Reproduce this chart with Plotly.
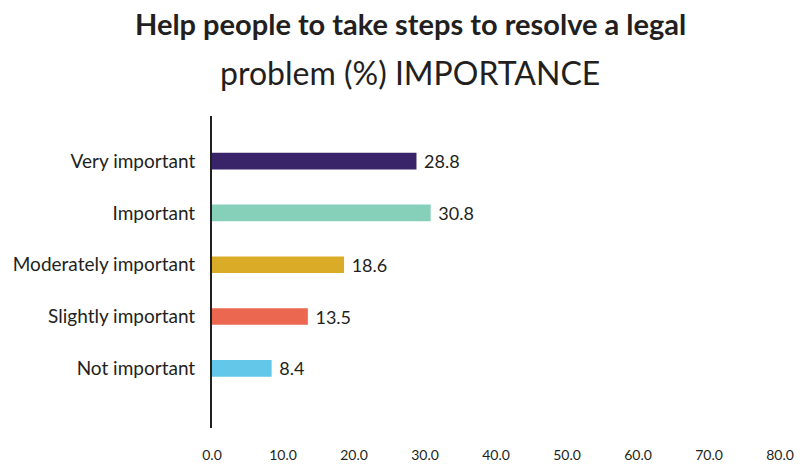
import plotly.graph_objects as go

# Survey responses: share of respondents (%) by importance rating
categories = ["Very important", "Important", "Moderately important",
              "Slightly important", "Not important"]
values = [28.8, 30.8, 18.6, 13.5, 8.4]
bar_colors = ["#3a2469", "#86cfb9", "#d9ab26", "#eb6750", "#62c7e9"]
tick_values = [0, 10, 20, 30, 40, 50, 60, 70, 80]
tick_labels = ["0.0", "10.0", "20.0", "30.0", "40.0", "50.0", "60.0", "70.0", "80.0"]

title_line1 = "Help people to take steps to resolve a legal"
title_line2 = "problem (%) IMPORTANCE"

INK = "#231f20"
FONT = "Lato"

fig = go.Figure()
fig.add_trace(go.Bar(
    x=values,
    y=categories,
    orientation="h",
    width=0.32,
    marker=dict(color=bar_colors, line=dict(width=0)),
    text=[f"{v:.1f}" for v in values],
    texttemplate=" %{text}",
    textposition="outside",
    constraintext="none",
    textfont=dict(family=FONT, size=18, color=INK),
    cliponaxis=False,
    hoverinfo="skip",
))

fig.update_layout(
    width=805,
    height=466,
    margin=dict(l=212, r=25, t=116, b=38),
    paper_bgcolor="white",
    plot_bgcolor="white",
    showlegend=False,
    font=dict(family=FONT, color=INK),
    xaxis=dict(
        range=[0, 80],
        tickvals=tick_values,
        ticktext=tick_labels,
        showgrid=False,
        zeroline=False,
        showline=False,
        ticks="",
        ticklabelstandoff=17,
        automargin=False,
        tickfont=dict(family=FONT, size=14, color=INK),
        fixedrange=True,
    ),
    yaxis=dict(
        categoryorder="array",
        categoryarray=categories,
        range=[5.15, -0.87],
        showgrid=False,
        zeroline=False,
        showline=True,
        linecolor=INK,
        linewidth=2,
        ticks="",
        ticklabelstandoff=11,
        automargin=False,
        tickfont=dict(family=FONT, size=19, color=INK),
        fixedrange=True,
    ),
    annotations=[
        dict(text="<b>" + title_line1 + "</b>", xref="paper", yref="paper",
             x=(410 - 212) / 568, y=1 + (116 - 24) / 312,
             xanchor="center", yanchor="middle", showarrow=False,
             font=dict(family=FONT, size=29, color=INK)),
        dict(text=title_line2, xref="paper", yref="paper",
             x=(410 - 212) / 568, y=1 + (116 - 72) / 312,
             xanchor="center", yanchor="middle", showarrow=False,
             font=dict(family=FONT, size=32, color=INK)),
    ],
)

fig.write_html("out.html")
